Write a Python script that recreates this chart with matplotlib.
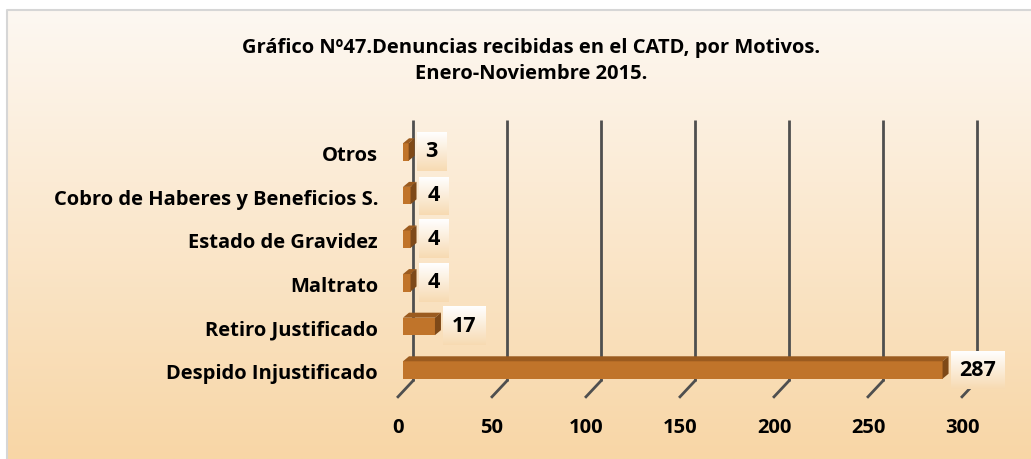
import numpy as np
import matplotlib.pyplot as plt
from matplotlib.patches import Polygon
from matplotlib.colors import to_rgb

plt.rcParams['font.family'] = ['Open Sans', 'DejaVu Sans']

# Datos: denuncias por motivo (de abajo hacia arriba)
motivos = ['Despido Injustificado', 'Retiro Justificado', 'Maltrato',
           'Estado de Gravidez', 'Cobro de Haberes y Beneficios S.', 'Otros']
denuncias = [287, 17, 4, 4, 4, 3]
ticks = [0, 50, 100, 150, 200, 250, 300]

W, H = 1031, 459
fig = plt.figure(figsize=(W / 100, H / 100), dpi=100)
FS = 14.5

# Fondo con degradado y borde gris
bg = fig.add_axes([0, 0, 1, 1])
bg.set_xlim(0, W)
bg.set_ylim(0, H)
bg.axis('off')
c_top = np.array(to_rgb('#fdf8f2'))
c_bot = np.array(to_rgb('#f8d6a6'))
t = np.linspace(0, 1, 256)[:, None]
grad = c_top * (1 - t) + c_bot * t
bg.imshow(grad[:, None, :].repeat(2, axis=1), extent=[7, W, 0, H - 10],
          aspect='auto', origin='upper', zorder=0)
bg.plot([7, 7, W], [0, H - 10, H - 10], color='#d6d6d6', lw=1.5, zorder=1)

# Eje principal (plano frontal de las barras)
left_px, floor_px, width_px, height_px = 403, 391.8, 564, 261.6
ax = fig.add_axes([left_px / W, (H - floor_px) / H, width_px / W, height_px / H])
ax.set_xlim(0, 300)
ax.set_ylim(-0.5, 5.5)
ax.axis('off')
sx = 300 / width_px      # unidades por pixel en x
sy = 6 / height_px       # unidades por pixel en y

# Lineas de division (pared del fondo) y marcas del piso
gx = 10 * sx
y_back = -0.5 + 11 * sy
y_top = -0.5 + (floor_px - 120) * sy
y_front = -0.5 - 5 * sy
for v in ticks:
    ax.plot([v + gx, v + gx], [y_back, y_top], color='#4f4f4f', lw=2,
            clip_on=False, zorder=1, solid_capstyle='butt')
    ax.plot([v + gx, v - 5 * sx], [y_back, y_front], color='#4f4f4f', lw=2,
            clip_on=False, zorder=1)
    ax.text(v - 5 * sx, -0.5 - 36 * sy, str(v), ha='center', va='center',
            fontsize=FS, fontweight='bold', color='black')

# Barras 3D
bh = 0.4
ddx, ddy = 6 * sx, 5 * sy
front, top, side = '#c0742a', '#9b5b1f', '#7e4918'
pos = np.arange(len(denuncias))
ax.barh(pos, denuncias, height=bh, color=front, zorder=3)
box_h = 38 * sy
for y, v in zip(pos, denuncias):
    yt, yb = y + bh / 2, y - bh / 2
    ax.add_patch(Polygon([(0, yt), (v, yt), (v + ddx, yt + ddy), (ddx, yt + ddy)],
                         closed=True, color=top, zorder=3, lw=0))
    ax.add_patch(Polygon([(v, yb), (v + ddx, yb + ddy), (v + ddx, yt + ddy), (v, yt)],
                         closed=True, color=side, zorder=3, lw=0))
    # etiqueta de valor con recuadro degradado
    txt = str(v)
    bw = (18 + 12 * len(txt)) * sx
    bx = v + ddx + 2 * sx
    bgrad = np.array(to_rgb('#ffffff')) * (1 - t) + np.array(to_rgb('#f7dab2')) * t
    ax.imshow(bgrad[:, None, :].repeat(2, axis=1),
              extent=[bx, bx + bw, y - box_h / 2, y + box_h / 2],
              aspect='auto', origin='upper', zorder=4, clip_on=False)
    ax.text(bx + bw / 2, y, txt, ha='center', va='center', fontsize=FS + 1,
            fontweight='bold', color='black', zorder=5)
    # nombre del motivo
    ax.text((378 - left_px) * sx, y - 4 * sy, motivos[y], ha='right', va='center',
            fontsize=FS, fontweight='bold', color='black')

ax.set_xlim(0, 300)
ax.set_ylim(-0.5, 5.5)

fig.text(531 / W, 1 - 61 / H,
         'Gráfico Nº47.Denuncias recibidas en el CATD, por Motivos.\nEnero-Noviembre 2015.',
         ha='center', va='center', fontsize=FS, fontweight='bold',
         linespacing=1.35, color='black')

fig.savefig('out.png', dpi=100)
